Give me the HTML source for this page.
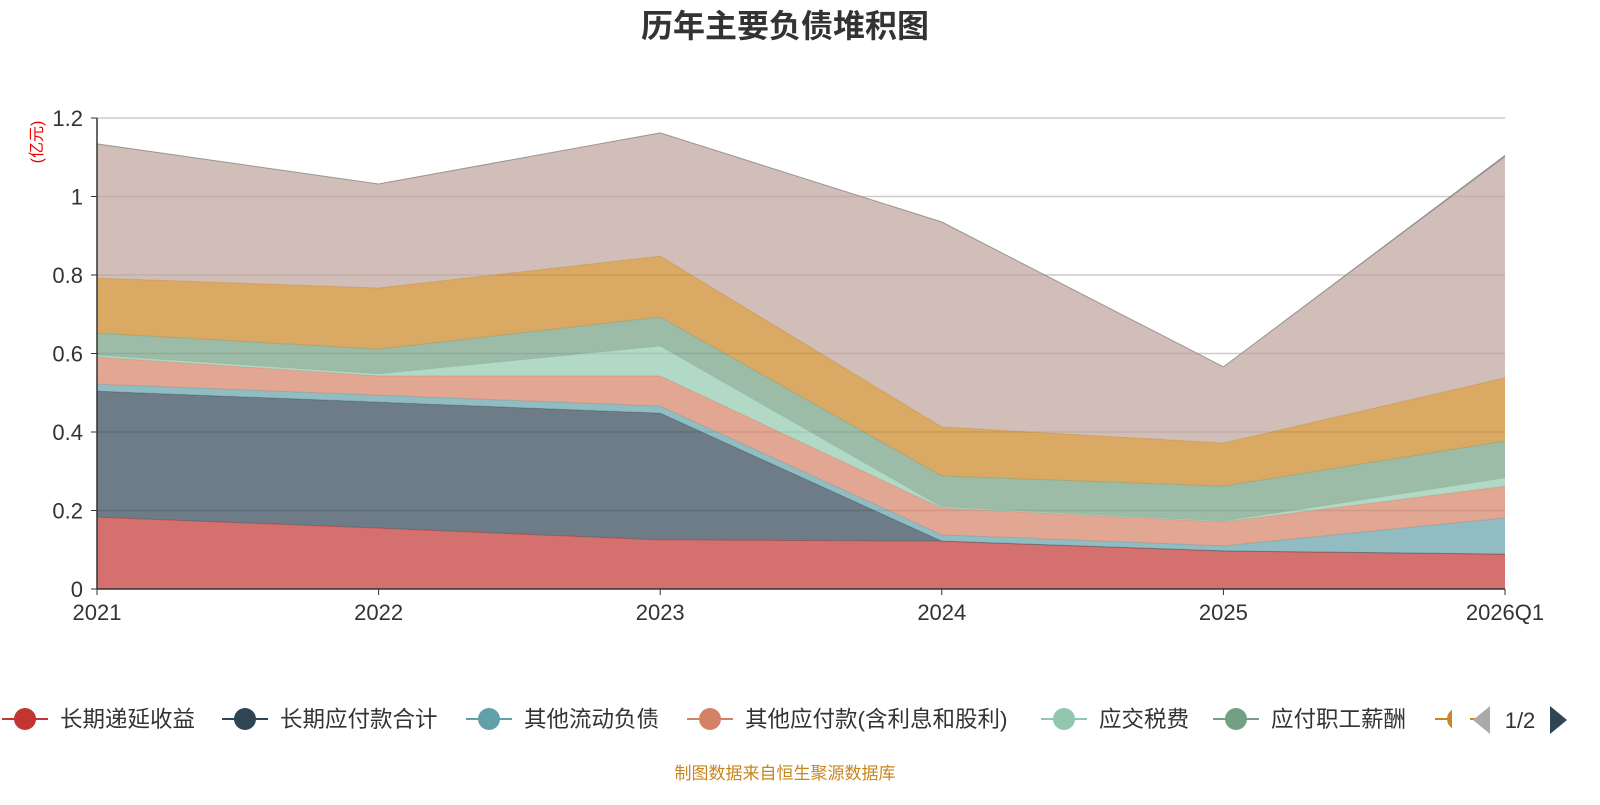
<!DOCTYPE html>
<html><head><meta charset="utf-8">
<style>
body{margin:0;background:#fff;font-family:"Liberation Sans","Noto Sans CJK SC",sans-serif;}
svg text{font-family:"Liberation Sans","Noto Sans CJK SC",sans-serif;}
</style></head>
<body>
<svg id="chart" width="1600" height="800" xmlns="http://www.w3.org/2000/svg">
<text x="785" y="37" text-anchor="middle" font-size="32" font-weight="bold" fill="#333">历年主要负债堆积图</text>
<text transform="translate(42,142) rotate(-90)" text-anchor="middle" font-size="16" fill="#e00">(亿元)</text>
<g id="grid"></g>
<g id="areas"></g>
<g id="axes"></g>
<g id="legend"></g>
<text x="785" y="779" text-anchor="middle" font-size="17" fill="#c8861e">制图数据来自恒生聚源数据库</text>
</svg>
<script>
const categories=["2021","2022","2023","2024","2025","2026Q1"];
const yTicks=[0,0.2,0.4,0.6,0.8,1,1.2];
const yTickLabels=["0","0.2","0.4","0.6","0.8","1","1.2"];
const sDeferred=[0.183,0.155,0.125,0.122,0.097,0.089];
const sLongPayable=[0.321,0.321,0.323,0,0,0];
const sOtherCurrent=[0.018,0.018,0.018,0.016,0.013,0.092];
const sOtherPayable=[0.069,0.049,0.077,0.068,0.061,0.081];
const sTax=[0.005,0.005,0.076,0.003,0.002,0.021];
const sSalary=[0.056,0.063,0.074,0.079,0.089,0.094];
const sSeries7=[0.140,0.156,0.155,0.125,0.110,0.161];
const sSeries8=[0.342,0.265,0.314,0.522,0.194,0.563];
const sSeries9=[0,0,0,0,0,0.004];
const seriesNames=["长期递延收益","长期应付款合计","其他流动负债","其他应付款(含利息和股利)","应交税费","应付职工薪酬","应付账款","短期借款","其他"];
const seriesData=[sDeferred,sLongPayable,sOtherCurrent,sOtherPayable,sTax,sSalary,sSeries7,sSeries8,sSeries9];
const colors=["#c23531","#2f4554","#61a0a8","#d48265","#91c7ae","#749f83","#ca8622","#bda29a","#6e7074"];
const NS="http://www.w3.org/2000/svg";
const x0=97,x1=1505,yBase=589,yTop=118,yMax=1.2;
const xS=i=>x0+i*(x1-x0)/(categories.length-1);
const yS=v=>yBase-v*(yBase-yTop)/yMax;
function mk(t,a,p){const e=document.createElementNS(NS,t);for(const k in a)e.setAttribute(k,a[k]);p.appendChild(e);return e;}
const grid=document.getElementById('grid'),areas=document.getElementById('areas'),axes=document.getElementById('axes'),legend=document.getElementById('legend');
yTicks.forEach((v,i)=>{
 if(v>0){const l=mk('line',{x1:x0,x2:x1,y1:yS(v),y2:yS(v),stroke:'#ccc','stroke-width':1.5},grid);
 
 }
 const t=mk('text',{x:x0-14,y:yS(v)+8,'text-anchor':'end','font-size':22,fill:'#333'},axes);t.textContent=yTickLabels[i];
 
 
 mk('line',{x1:x0-6,x2:x0,y1:yS(v),y2:yS(v),stroke:'#333'},axes);
});
let cum=categories.map(()=>0);
seriesData.forEach((s,k)=>{
 const lower=cum.slice();const upper=cum.map((c,i)=>c+s[i]);
 let d=upper.map((v,i)=>(i?'L':'M')+xS(i)+','+yS(v)).join('');
 for(let i=lower.length-1;i>=0;i--)d+='L'+xS(i)+','+yS(lower[i]);
 const p=mk('path',{d:d+'Z',fill:colors[k],'fill-opacity':0.7},areas);
 
 
 const ln=mk('polyline',{points:upper.map((v,i)=>xS(i)+','+yS(v)).join(' '),fill:'none',stroke:colors[k],'stroke-opacity':0.5,'stroke-width':1},areas);
 
 
 cum=upper;
});
mk('line',{x1:x0,x2:x0,y1:yTop,y2:yBase,stroke:'#333','stroke-width':1.5},axes);
mk('line',{x1:x0,x2:x1,y1:yBase,y2:yBase,stroke:'#333','stroke-width':1.5},axes);
categories.forEach((c,i)=>{
 mk('line',{x1:xS(i),x2:xS(i),y1:yBase,y2:yBase+6,stroke:'#333'},axes);
 const t=mk('text',{x:xS(i),y:620,'text-anchor':'middle','font-size':22,fill:'#333'},axes);t.textContent=c;
 
 
});
const legX=[2,222,466,687,1041,1213,1435];
legX.forEach((x,k)=>{
 const g=mk('g',{},legend);
 
 
 mk('line',{x1:x,x2:x+46,y1:719,y2:719,stroke:colors[k],'stroke-width':2},g);
 mk('circle',{cx:x+23,cy:719,r:11,fill:colors[k]},g);
 if(k<6){const t=mk('text',{x:x+58,y:727,'font-size':22.5,fill:'#333'},g);t.textContent=seriesNames[k];}
});
mk('rect',{x:1452,y:700,width:18,height:40,fill:'#fff'},legend);
mk('polygon',{points:'1490,706 1490,734 1473,720',fill:'#aaa'},legend);
const pg=mk('text',{x:1520,y:728,'text-anchor':'middle','font-size':22,fill:'#333'},legend);pg.textContent='1/2';


const nx=mk('polygon',{points:'1550,706 1550,734 1567,720',fill:'#2f4554'},legend);


</script>
</body></html>
